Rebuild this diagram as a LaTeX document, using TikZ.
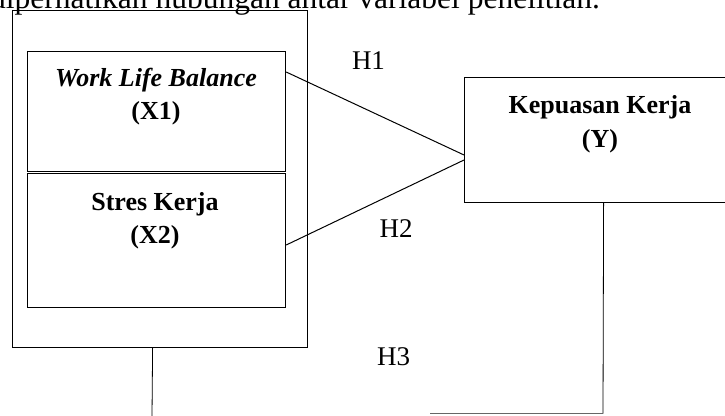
\documentclass[tikz,border=0pt]{standalone}
\usepackage{fontspec}
\setmainfont{Liberation Serif}
\begin{document}
\begin{tikzpicture}[x=1pt,y=-1pt,
  box/.style={draw,line width=1.2pt,inner sep=0pt,anchor=north west},
  lbl/.style={anchor=base,inner sep=0pt,font=\fontsize{26}{30}\selectfont\bfseries},
  hl/.style={anchor=center,inner sep=0pt,font=\fontsize{27}{30}\selectfont},
  conn/.style={line width=1pt},
  thin/.style={line width=0.8pt}]
\useasboundingbox (0,0) rectangle (725,415);
\clip (0,0) rectangle (725,415);
% clipped caption line at top
\node[anchor=base west,inner sep=0pt,font=\fontsize{31.5}{34}\selectfont] (cap) at (-10,9) {diperhatikan hubungan antar variabel penelitian.};
% boxes
\node[box,minimum width=295pt,minimum height=337pt] (outer) at (12,10) {};
\node[box,minimum width=258pt,minimum height=120pt] (b1) at (27,51) {};
\node[box,minimum width=258pt,minimum height=134pt] (b2) at (27,173) {};
\node[box,minimum width=272pt,minimum height=125pt] (yb) at (464,77) {};
% box texts
\node[lbl] (t1a) at (156,86) {\itshape Work Life Balance};
\node[lbl] (t1b) at (156,119) {(X1)};
\node[lbl] (t2a) at (155,210) {Stres Kerja};
\node[lbl] (t2b) at (155,243) {(X2)};
\node[lbl] (tya) at (600,113) {Kepuasan Kerja};
\node[lbl] (tyb) at (600,147) {(Y)};
% hypothesis labels
\node[hl] (h1) at (368.5,61) {H1};
\node[hl] (h2) at (396,229) {H2};
\node[hl] (h3) at (393.5,357) {H3};
% connectors
\draw[conn] ([yshift=-21pt]b1.north east) -- ([yshift=-78pt]yb.north west);
\draw[conn] ([yshift=-72pt]b2.north east) -- ([yshift=-83pt]yb.north west);
\coordinate (bl) at (152,416);
\coordinate (br) at (603,413.5);
\coordinate (bm) at (430,413.5);
\draw[thin] ([xshift=-7.5pt]outer.south) -- (bl);
\draw[thin] ([xshift=3pt]yb.south) -- (br);
\draw[line width=0.7pt,black!60] (br) -- (bm);
\end{tikzpicture}
\end{document}
